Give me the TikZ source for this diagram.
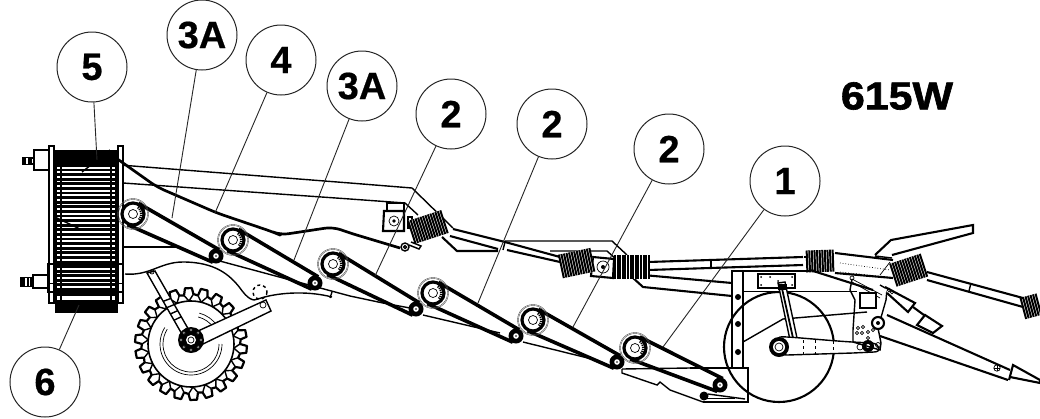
\documentclass[tikz,border=0pt]{standalone}
\usepackage{fontspec}
\usetikzlibrary{calc}
\setmainfont{Liberation Sans}
\newfontfamily\modelfont{Liberation Sans}[BoldFeatures={FakeBold=1.6,FakeStretch=1.1}]
\newfontfamily\calloutfont{Liberation Sans}[BoldFeatures={FakeBold=0.5}]
\tikzset{
 callout/.style={circle,draw=black!85,line width=1pt,fill=white,minimum size=70pt,inner sep=0pt,font=\calloutfont\fontsize{38}{38}\selectfont\bfseries},
 leader/.style={draw=black!85,line width=0.9pt},
 fine/.style={line width=0.7pt},
 med/.style={line width=1.4pt},
 heavy/.style={line width=2.1pt},
 beltline/.style={line width=3.6pt},
 hose/.style={line width=2.7pt,line join=round,rounded corners=8pt},
}
\newcommand\beltlink[4]{%
 \pgfmathsetmacro\bdx{#3-#1}\pgfmathsetmacro\bdy{#4-#2}%
 \pgfmathsetmacro\bd{veclen(\bdx,\bdy)}%
 \pgfmathsetmacro\bnx{-\bdy/\bd}\pgfmathsetmacro\bny{\bdx/\bd}%
 \draw[beltline] ({#1+12*\bnx},{#2+12*\bny}) -- ({#3+7*\bnx},{#4+7*\bny});
 \draw[beltline] ({#1-12*\bnx},{#2-12*\bny}) -- ({#3-7*\bnx},{#4-7*\bny});
}
\newcommand\bigpulley[2]{%
 \begin{scope}[shift={(#1,#2)}]
 \draw[line width=0.4pt,black!70] (0,0) circle[radius=15.5];
 \draw[line width=0.4pt,black!70] (0,0) circle[radius=14.5];
 \fill[white] (0,0) circle[radius=12];
 \draw[line width=3.2pt] (0,0) circle[radius=11];
 \draw[fine] (0,0) circle[radius=4.5];
 \foreach \a in {-50,-35,...,40}{\draw[line width=1.2pt] (\a:7) -- (\a:10);}
 \end{scope}}
\newcommand\smallpulley[2]{%
 \fill (#1,#2) circle[radius=7.5];
 \fill[white] (#1,#2) circle[radius=2.8];
 \fill (#1,#2) circle[radius=0.9];}
\newcommand\bellow[5]{% cx cy angle halfwidth halfheight
 \begin{scope}[shift={(#1,#2)},rotate=#3]
 \fill[white] (-#4,-#5) rectangle (#4,#5);
 \pgfmathsetmacro\bstart{-#4}\pgfmathsetmacro\bnext{-#4+2.6}
 \foreach \u in {\bstart,\bnext,...,#4}{\draw[line width=2pt] (\u,-#5) -- (\u,#5);}
 \end{scope}}
\begin{document}
\begin{tikzpicture}[x=1pt,y=-1pt,line cap=butt,line join=miter]
\useasboundingbox[fill=white] (0,0) rectangle (1040,418);

% ---- frame lines
\draw[med] (120,165) -- (350,183) -- (412,188) -- (453,228);
\draw[med] (53,180) -- (123,183) -- (350,199) -- (405,203) -- (418,215);
\draw[med] (48,247) -- (177,247);
\draw[med] (125,274) .. controls (150,276) and (160,262) .. (183,262)
  .. controls (215,262) and (230,275) .. (240,288) .. controls (247,298) and (253,302) .. (258,299)
  .. controls (275,293) and (305,290) .. (332,297);
\draw[med] (332,292) -- (330,298);
\draw[med] (216,260) -- (350,296) -- (383,303) -- (410,308);
\draw[med] (423,315) -- (500,333);
\draw[med] (523,342) -- (600,361);

% ---- shafts between the joints
\draw[heavy] (453,229) -- (505,242) -- (560,257);
\draw[heavy] (450,236) -- (498,249);
\draw[heavy] (507,250) -- (560,262);
\draw[med] (505,242) -- (503,250);
\draw[heavy] (442,237) -- (457,251) -- (498,251);
\draw[med] (505,241) -- (612,241) -- (627,255);
\draw[med] (550,251) -- (607,251) -- (617,260);
\draw[heavy] (632,277) -- (643,287) -- (732,296);
\draw[heavy] (643,275) -- (732,283);
\draw[heavy] (648,262) -- (803,257);
\draw[heavy] (648,270) -- (803,265);
\draw[med] (711,260) -- (711,267);
% ---- brackets
\draw[med] (387,203) rectangle (404,212);
\draw[heavy,fill=white] (384,211) -- (404,211) -- (404,231) -- (383,231) -- cycle;
\draw[fine] (394,221) circle[radius=5];
\fill (394,221) circle[radius=1.8];
\draw[heavy,fill=white] (593,257) -- (614,259) -- (613,278) -- (591,276) -- cycle;
\draw[fine] (603,267) circle[radius=6];
\fill (603,267) circle[radius=2];

% ---- joints
\draw[med] (408,217) rectangle (412,228);
\bellow{428}{227}{18}{17}{12}
\bellow{577}{263}{12}{16}{12}
\bellow{632}{267}{0}{17}{12}
\bellow{821}{261}{2}{14}{11}
\bellow{909}{270}{18}{16}{12}
\bellow{1032}{306}{15}{9}{11}

% ---- right shaft and hitch
\draw[heavy] (804,257) -- (808,257);
\draw[heavy] (835,253) -- (893,260);
\draw[heavy] (835,273) -- (893,278);
\draw[fine,dotted] (840,263) -- (890,270);
\draw[fine,dotted] (840,272) -- (887,277);
\draw[fine] (890,262) -- (880,275);
\draw[heavy] (875,255) -- (891,240) -- (973,225) -- (973,233) -- (892,255);
\draw[med] (875,256) -- (892,258);
\draw[heavy] (927,272) -- (1023,298);
\draw[heavy] (927,280) -- (1023,307);
\draw[med] (971,283) -- (969,291);
\draw[heavy] (810,270) -- (873,290);

% ---- rear box and disc
\draw[heavy] (732,368) -- (732,271) -- (810,271);
\draw[med] (743,272) -- (743,367);
\draw[heavy] (690,368) -- (748,368) -- (748,402) -- (703,402);
\draw[med] (622,369) -- (690,368);
\draw[med] (622,369) -- (622,373) -- (657,385) -- (660,382) -- (670,390) -- (703,402);
\draw[med] (708,394) -- (745,399);
\fill (704,396) circle[radius=4.5];
\draw[fine] (704,398) -- (735,398);
\draw[heavy] (779,347) circle[radius=55];
\foreach \yy in {297,324,352}{\fill (738,\yy) circle[radius=3];}
\draw[fine] (743,291) -- (857,291);
\draw[med] (743,342) -- (783,319) -- (867,312);

% ---- plate and cylinder
\draw[med] (758,274) rectangle (795,288);
\foreach \p in {(761,277),(761,285),(792,277),(792,285),(770,277),(778,281)}{\fill \p circle[radius=1];}
\draw[med,fill=white] (778,283) -- (785,282) -- (797,338) -- (790,340) -- cycle;
\draw[line width=1.8pt] (781,284) -- (793,338);
\fill (778,284) rectangle (787,290);
\draw[med,fill=white] (780,337) .. controls (784,336) and (820,340) .. (852,342) -- (872,343)
  .. controls (880,344) and (882,352) .. (874,352) -- (853,353) -- (787,355) .. controls (773,356) and (773,340) .. (780,337) -- cycle;
\draw[fine,dashed] (803,340) -- (803,354);
\draw[fine,dashed] (815,340) -- (815,354);
\draw[fine,dashed] (833,341) -- (833,353);
\fill (779,347) circle[radius=10];
\fill[white] (779,347) circle[radius=6];
\draw[fine] (779,347) circle[radius=4];
\fill (868,346) circle[radius=6]; \fill[white] (868,346) circle[radius=2];
\draw[fine] (860,347) circle[radius=3]; \draw[fine] (878,345) circle[radius=2.5];

\draw[med] (852,279) -- (850,290) -- (855,300) -- (853,330) -- (853,342) -- (880,350) -- (881,343) -- (878,328) -- (886,300) -- (887,289) -- (880,285);
\draw[fine] (852,279) -- (882,295);
\draw[fine] (852,282) -- (880,298);
\draw[fine] (852,278) circle[radius=2];
\draw[med,fill=white] (860,293) rectangle (876,308);
\draw[heavy,fill=white] (878,323) circle[radius=6];
\fill (878,323) circle[radius=2];
\foreach \p in {(858,328),(863,327),(857,333),(862,333),(868,332),(873,330),(868,338)}{\draw[fine] \p circle[radius=1.7];}
\draw[heavy,fill=white] (885,287) -- (915,303) -- (908,312) -- (887,293);
\foreach \p in {(889,290),(892,292)}{\draw[fine] \p circle[radius=1.8];}
\draw[heavy] (913,307) -- (928,318);
\draw[heavy,fill=white] (917,325) -- (925,315) -- (942,326) -- (933,333) -- cycle;
\draw[heavy] (887,315) -- (1010,370);
\draw[heavy] (880,336) -- (1008,380);
\draw[heavy] (1009,380) -- (1013,365) -- (1040,380) -- (1040,383) -- (1010,377);
\draw[fine] (997,368) circle[radius=3.2];
\draw[fine] (994,368) -- (1000,368) (997,365) -- (997,371);

% ---- roller
\fill[white] (48,145) rectangle (123,313);
\fill (55,150) rectangle (118,167);
\fill (55,300) rectangle (118,313);
\foreach \yy in {170,174.6,...,298}{\draw[line width=2.9pt] (55,\yy) -- (118,\yy);}
\foreach \xx in {56,61,111,116}{\draw[line width=1.6pt] (\xx,150) -- (\xx,313);}
\draw[med] (49,146) rectangle (54,303);
\draw[med] (118,146) rectangle (123,303);
\draw[med] (48,264) rectangle (123,292);
\draw[fine] (48,283) -- (123,283);
\draw[med] (82,172) -- (110,150);
\draw[med] (57,218) -- (82,230);
\draw[med] (34,150) rectangle (49,170);
\draw[med] (28,158) rectangle (34,164);
\fill (22,157) rectangle (32,165);
\fill[white] (26,158) rectangle (28,164);
\draw[med] (33,275) rectangle (48,288);
\fill (20,277) rectangle (33,287);
\fill[white] (25,278) rectangle (27,286);
\fill[white] (29,278) rectangle (30,286);

% ---- hose
\draw[hose] (116,158) -- (157,187) -- (217,213) -- (273,232) -- (280,235) -- (333,227) -- (350,233) -- (400,248);
\draw[med] (405,247) circle[radius=4]; \draw[med] (405,247) circle[radius=1.5];
\draw[med] (411,242) -- (421,246) -- (419,249) -- (409,245);

% ---- belts and pulleys
\beltlink{133}{214}{216}{256}
\beltlink{233}{240}{315}{283}
\beltlink{333}{264}{416}{309}
\beltlink{433}{293}{516}{336}
\beltlink{533}{320}{617}{362}
\beltlink{635}{348}{720}{385}
\bigpulley{133}{214}
\bigpulley{233}{240}
\bigpulley{333}{264}
\bigpulley{433}{293}
\bigpulley{533}{320}
\bigpulley{635}{348}
\smallpulley{216}{256}
\smallpulley{315}{283}
\smallpulley{416}{309}
\smallpulley{516}{336}
\smallpulley{617}{362}
\smallpulley{720}{385}

% ---- wheel
\begin{scope}[shift={(191,344)}]
 \fill[white] (0,0) circle[radius=56];
 \draw[line width=1.6pt] (0,0) circle[radius=43];
 \foreach \i in {0,...,21}{
  \pgfmathsetmacro\a{\i*360/22}
  \draw[line width=2.2pt,line join=round] (\a:49) -- (\a+2:56) -- (\a+9:56) -- (\a+11:50) -- (\a+16.36:49);
  \draw[line width=1.4pt] (\a+5.5:43) -- (\a:49) (\a+5.5:43) -- (\a+11:50);
 }
 \draw[fine] (0:28) arc[start angle=0,end angle=212,radius=28];
 \draw[fine] (0:31) arc[start angle=0,end angle=212,radius=31];
 \draw[fine] (-75:32) arc[start angle=-75,end angle=-35,radius=32];
 \draw[fine] (-75:28) arc[start angle=-75,end angle=-35,radius=28];
\end{scope}
\draw[med,fill=white] (147,273) -- (155,271) -- (190,332) -- (183,336) -- cycle;
\draw[fine] (152,272) circle[radius=2];
\foreach \t in {0.45,0.55,0.65,0.75}{\draw[med] ($(147,273)!\t!(183,336)$) -- ($(155,271)!\t!(190,332)$);}
\draw[med,fill=white] (198,331) -- (266,300) -- (271,311) -- (203,344) -- cycle;
\draw[med,dashed] (260,292) circle[radius=7];
\draw[fine] (263,305) circle[radius=3];
\fill (191,340) circle[radius=13];
\fill[white] (191,340) circle[radius=5];
\draw[fine] (191,340) circle[radius=3];
\foreach \a in {0,45,...,315}{\draw[fill=white,line width=0.5pt] ([shift={(\a:10)}]191,340) circle[radius=1.4];}

% ---- callouts
\node[callout] (n5) at (92,67) {5};
\node[callout] (n3a) at (202,35) {3A};
\node[callout] (n4) at (281,60) {4};
\node[callout] (n3b) at (362,86) {3A};
\node[callout] (n2a) at (451,114) {2};
\node[callout] (n2b) at (552,124) {2};
\node[callout] (n2c) at (669,149) {2};
\node[callout] (n1) at (785,181) {1};
\node[callout] (n6) at (45,382) {6};
\coordinate (t5) at (97,160);
\coordinate (t3a) at (172,218);
\coordinate (t4) at (215,213);
\coordinate (t3b) at (294,260);
\coordinate (t2a) at (375,276);
\coordinate (t2b) at (478,303);
\coordinate (t2c) at (573,327);
\coordinate (t1) at (663,347);
\coordinate (t6) at (79,305);
\foreach \a/\b in {n5/t5,n3a/t3a,n4/t4,n3b/t3b,n2a/t2a,n2b/t2b,n2c/t2c,n1/t1,n6/t6}{\draw[leader] (\a) -- (\b);}
\node[font=\modelfont\bfseries\fontsize{39}{39}\selectfont,inner sep=0pt] (model) at (897,96) {615W};
\end{tikzpicture}
\end{document}
